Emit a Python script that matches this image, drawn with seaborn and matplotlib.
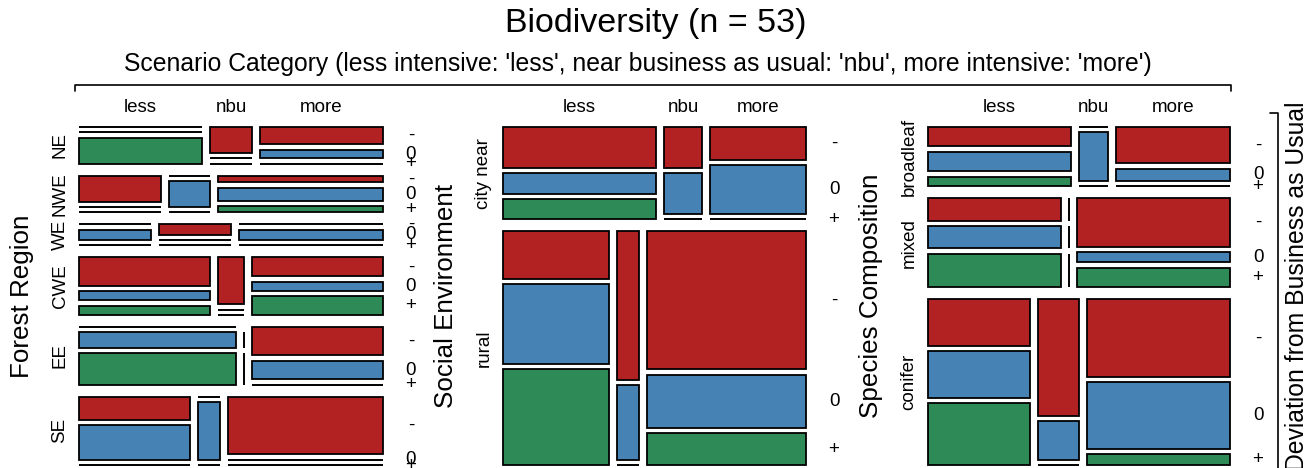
import numpy as np
import pandas as pd
import matplotlib
matplotlib.use("Agg")
import matplotlib.pyplot as plt
import seaborn as sns

# counts: for each row level -> [less, nbu, more], each as [-, 0, +]
dev_levels = ["-", "0", "+"]
scen_levels = ["less", "nbu", "more"]

region_levels = ["NE", "NWE", "WE", "CWE", "EE", "SE"]
ne = [[0, 0, 3], [1, 0, 0], [2, 1, 0]]
nwe = [[2, 0, 0], [0, 1, 0], [1, 2, 1]]
we = [[0, 1, 0], [1, 0, 0], [0, 2, 0]]
cwe = [[3, 1, 1], [1, 0, 0], [2, 1, 2]]
ee = [[0, 2, 4], [0, 0, 0], [3, 2, 0]]
se = [[2, 3, 0], [0, 1, 0], [7, 0, 0]]

social_levels = ["city near", "rural"]
city_near = [[4, 2, 2], [1, 1, 0], [2, 3, 0]]
rural = [[3, 5, 6], [2, 1, 0], [13, 5, 3]]

species_levels = ["broadleaf", "mixed", "conifer"]
broadleaf = [[2, 2, 1], [0, 1, 0], [3, 1, 0]]
mixed = [[2, 2, 3], [0, 0, 0], [5, 1, 2]]
conifer = [[3, 3, 4], [3, 1, 0], [7, 6, 1]]

sns.set_theme(style="white")
colors = sns.color_palette(["#B22222", "#4682B4", "#2E8B57"])
plt.rcParams["font.family"] = ["Liberation Sans", "DejaVu Sans"]
plt.rcParams["text.color"] = "black"

LEVEL_FS = 13.5
VAR_FS = 18.7


def mosaic(ax, rows, row_labels, var_name, left, top, width, height,
           g1=12.0, g2=8.0, g3=16 / 3):
    n = sum(sum(sum(c) for c in cells) for cells in rows)
    avail_h = height - g1 * (len(rows) - 1)
    y = top
    for r, cells in enumerate(rows):
        rn = sum(sum(c) for c in cells)
        rh = avail_h * rn / n
        avail_w = width - g2 * (len(cells) - 1)
        x = left
        prev = None
        for j, cell in enumerate(cells):
            cn = sum(cell)
            cw = avail_w * cn / rn
            props = [v / cn for v in cell] if cn else prev
            sub_h = rh - g3 * (len(cell) - 1)
            yy = y
            for k, p in enumerate(props):
                sh = sub_h * p
                if cn == 0:
                    if sh > 0:
                        ax.vlines(x, yy, yy + sh, color="black", lw=1.4)
                elif cell[k] == 0:
                    ax.hlines(yy, x, x + cw, color="black", lw=1.4)
                else:
                    ax.bar(x, sh, width=cw, bottom=yy, align="edge",
                           color=colors[k], edgecolor="black", linewidth=1.3)
                # deviation labels from the last column
                if j == len(cells) - 1:
                    ax.text(left + width + 28, yy + sh / 2, dev_levels[k],
                            ha="center", va="center", fontsize=LEVEL_FS)
                yy += sh + g3
            if r == 0:
                ax.text(x + cw / 2, 112, scen_levels[j], ha="center",
                        va="baseline", fontsize=LEVEL_FS)
            prev = props
            x += cw + g2
        ax.text(left - 19, y + rh / 2, row_labels[r], rotation=90,
                ha="center", va="center", fontsize=LEVEL_FS)
        y += rh + g1
    ax.text(left - 57, top + height / 2, var_name, rotation=90,
            ha="center", va="center", fontsize=VAR_FS)


fig = plt.figure(figsize=(13.12, 4.68), dpi=100)
ax = fig.add_axes([0, 0, 1, 1])
ax.set_xlim(0, 1312)
ax.set_ylim(468, 0)
ax.axis("off")

mosaic(ax, [ne, nwe, we, cwe, ee, se], region_levels, "Forest Region",
       79, 127, 304, 338)
mosaic(ax, [city_near, rural], social_levels, "Social Environment",
       503, 127, 303, 338)
mosaic(ax, [broadleaf, mixed, conifer], species_levels, "Species Composition",
       928, 127, 302, 338)

ax.text(656, 32, "Biodiversity (n = 53)", ha="center", va="baseline",
        fontsize=24.5)
ax.text(638, 71, "Scenario Category (less intensive: 'less', near business as usual: "
        "'nbu', more intensive: 'more')", ha="center", va="baseline",
        fontsize=17.8)
ax.plot([75, 75, 1231, 1231], [91, 85, 85, 91], color="black", lw=1.2)
ax.plot([1270, 1278, 1278], [113, 113, 468], color="black", lw=1.2)
ax.text(1297, 286, "Deviation from Business as Usual", rotation=90,
        ha="center", va="center", fontsize=17.8)

fig.savefig("out.png", dpi=100)
